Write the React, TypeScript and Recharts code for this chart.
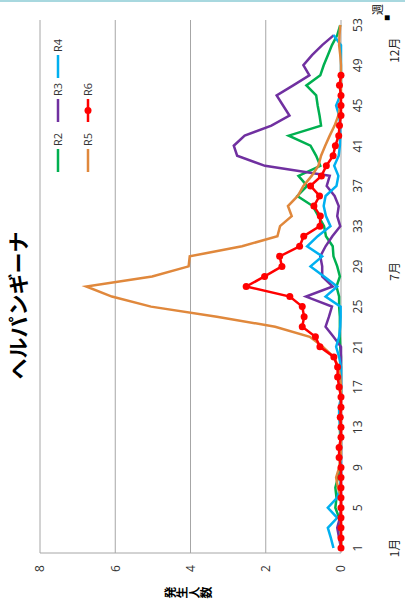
import { CartesianGrid, Line, LineChart, XAxis, YAxis } from "recharts";

// 週 1..53
const weeks = Array.from({ length: 53 }, (_, i) => i + 1);

const r2 = [
  0, 0, 0.02, 0.05, 0.15, 0.12, 0.15, 0.08, 0.03, 0.02,
  0.02, 0.02, 0.03, 0.02, 0.02, 0, 0, 0, 0, 0,
  0.02, 0.03, 0.03, 0.03, 0.05, 0.05, 0.12, 0.03, 0.1, 0.2,
  0.22, 0.4, 0.45, 0.6, 0.75, 1.16, 0.9, 1.13, 0.55, 0.66,
  0.81, 1.39, 0.53, 0.57, 0.62, 0.66, 0.92, 0.55, 0.46, 0.35,
  0.24, 0.1, 0.02,
];
const r3 = [
  0, 0.05, 0.1, 0.03, 0, 0, 0, 0, 0, 0,
  0, 0, 0, 0, 0, 0, 0, 0, 0, 0,
  0, 0.2, 0.41, 0.32, 0.24, 0.93, 0.22, 0.5, 0.5, 0.55,
  0.41, 0.23, 0.02, 0.1, 0.06, 0.17, 0.38, 0.3, 2.02, 2.76,
  2.85, 2.56, 1.85, 1.37, 1.54, 1.71, 1.27, 0.84, 1.0, 0.77,
  0.5, 0.19, null,
];
const r4 = [
  0.2, 0.27, 0.35, 0.1, 0.35, 0.1, 0.03, 0, 0, 0,
  0, 0, 0.02, 0.05, 0.05, 0, 0, 0, 0, 0.05,
  0.13, 0.05, 0.02, 0.01, 0.01, 0.41, 0.1, 0.45, 0.81, 0.5,
  0.9, 0.62, 0.28, 0.4, 0.46, 0.41, 0.12, 0.07, 0.18, 0.06,
  0.03, 0.02, 0.02, 0.05, 0.13, 0.02, 0, 0, 0, 0,
  0, 0.2, null,
];
const r5 = [
  0, 0, 0, 0, 0, 0, 0.08, 0.13, 0.05, 0,
  0, 0, 0, 0, 0, 0, 0, 0.02, 0.07, 0.19,
  0.48, 0.83, 1.75, 3.3, 5.05, 6.09, 6.77, 5.02, 4.05, 4.02,
  2.63, 1.69, 1.62, 1.31, 1.41, 1.15, 1.0, 0.78, 0.6, 0.53,
  0.42, 0.3, 0.17, 0.07, 0.02, 0, 0, 0, 0, 0.02,
  0.05, 0.04, 0.02,
];
const r6 = [
  0, 0, 0, 0, 0, 0, 0, 0, 0, 0.05,
  0.05, 0, 0, 0.02, 0, 0, 0.05, 0.09, 0.09, 0.19,
  0.56, 0.68, 1.03, 0.98, 1.03, 1.36, 2.52, 2.03, 1.57, 1.63,
  1.1, 0.99, 0.56, 0.55, 0.72, 0.57, 0.81, 0.52, 0.39, 0.21,
  0.15, 0.06, 0.04, 0, 0, 0, 0.04, 0, null, null,
  null, null, null,
];

const series = [
  { key: "R2", color: "#00B050", values: r2, dot: false },
  { key: "R3", color: "#7030A0", values: r3, dot: false },
  { key: "R4", color: "#00B0F0", values: r4, dot: false },
  { key: "R5", color: "#E0883C", values: r5, dot: false },
  { key: "R6", color: "#FF0000", values: r6, dot: true },
];

const valueTicks = [0, 2, 4, 6, 8];
const weekLabels = [1, 5, 9, 13, 17, 21, 25, 29, 33, 37, 41, 45, 49, 53];
const weekMarks = [0.5, 4.5, 8.5, 12.5, 16.5, 20.5, 24.5, 28.5, 32.5, 36.5, 40.5, 44.5, 48.5, 52.5];
const monthAt = [1, 28.5, 50.5];
const monthNames = ["1月", "7月", "12月"];

const data = weeks.map((w, i) => {
  const row: Record<string, number | null> = { week: w };
  series.forEach((s) => (row[s.key] = s.values[i]));
  return row;
});

const axisTicks = Array.from(new Set([...weekLabels, ...monthAt])).sort((a, b) => a - b);

const FONT = "'Open Sans', 'Noto Sans CJK JP', sans-serif";
const GRID = "#A6A6A6";

function WeekTick(props: any) {
  const { x, y, payload } = props;
  const v = payload.value;
  const m = monthAt.indexOf(v);
  return (
    <g>
      {weekLabels.includes(v) && (
        <text x={x} y={y + 21} textAnchor="middle" fontSize={12} fill="#333" fontFamily={FONT}>
          {v}
        </text>
      )}
      {m >= 0 && (
        <text x={x} y={y + 58} textAnchor="middle" fontSize={12} fill="#222" fontFamily="'Noto Sans CJK JP', sans-serif">
          {monthNames[m]}
        </text>
      )}
    </g>
  );
}

function LegendBox() {
  const cols = [439, 489, 533];
  return (
    <>
      {series.map((s, i) => (
        <div
          key={s.key}
          style={{
            position: "absolute",
            left: cols[i % 3],
            top: 51 + Math.floor(i / 3) * 30,
            display: "flex",
            alignItems: "center",
            fontFamily: FONT,
            fontSize: 11,
            color: "#333",
            lineHeight: "14px",
          }}
        >
          <svg width={23} height={10}>
            <line x1={0} y1={5} x2={23} y2={5} stroke={s.color} strokeWidth={2.5} />
            {s.dot && <circle cx={11.5} cy={5} r={3.5} fill={s.color} />}
          </svg>
          <span style={{ marginLeft: 3 }}>{s.key}</span>
        </div>
      ))}
    </>
  );
}

export default function App() {
  return (
    <div style={{ position: "absolute", left: 0, top: 0, width: 405, height: 611, overflow: "hidden", background: "#fff" }}>
      <div
        style={{
          position: "absolute",
          left: 0,
          top: 0,
          width: 611,
          height: 405,
          transformOrigin: "0 0",
          transform: "translate(0px, 611px) rotate(-90deg)",
          boxSizing: "border-box",
          borderRight: "2px solid #A8D8DF",
        }}
      >
        <LineChart width={611} height={405} data={data} margin={{ top: 40, right: 20, left: 8, bottom: 4 }}>
          <CartesianGrid horizontal vertical={false} stroke={GRID} />
          <XAxis
            xAxisId="marks"
            type="number"
            dataKey="week"
            domain={[0.5, 53.5]}
            ticks={weekMarks}
            interval={0}
            tick={false}
            height={0}
            mirror
            tickSize={4}
            stroke={GRID}
          />
          <XAxis
            xAxisId="wk"
            type="number"
            dataKey="week"
            domain={[0.5, 53.5]}
            ticks={axisTicks}
            interval={0}
            axisLine={false}
            tickLine={false}
            tickSize={0}
            tickMargin={0}
            height={60}
            tick={<WeekTick />}
          />
          <YAxis
            domain={[0, 8]}
            ticks={valueTicks}
            width={50}
            axisLine={{ stroke: GRID }}
            tickLine={false}
            tickSize={0}
            tickMargin={12}
            tick={{ fontSize: 12, fill: "#333", fontFamily: FONT }}
          />
          {series.map((s) => (
            <Line
              key={s.key}
              xAxisId="wk"
              type="linear"
              dataKey={s.key}
              stroke={s.color}
              strokeWidth={2.5}
              dot={s.dot ? { r: 3.5, fill: s.color, stroke: s.color, strokeWidth: 0 } : false}
              activeDot={false}
              isAnimationActive={false}
            />
          ))}
        </LineChart>
        <div
          style={{
            position: "absolute",
            left: 0,
            width: 611,
            top: 3,
            textAlign: "center",
            fontFamily: "'Noto Sans CJK JP', sans-serif",
            fontWeight: 700,
            fontSize: 21,
            lineHeight: "28px",
            color: "#000",
          }}
        >
          ヘルパンギーナ
        </div>
        <div
          style={{
            position: "absolute",
            left: 11,
            top: 164,
            writingMode: "vertical-rl",
            fontFamily: "'Noto Sans CJK JP', sans-serif",
            fontWeight: 700,
            fontSize: 12,
            lineHeight: "14px",
            color: "#000",
          }}
        >
          発生人数
        </div>
        <div style={{ position: "absolute", left: 596, top: 371, fontFamily: "'Noto Sans CJK JP', sans-serif", fontSize: 11, lineHeight: "12px" }}>
          週
        </div>
        <div style={{ position: "absolute", left: 590, top: 382, fontSize: 10, lineHeight: "10px" }}>■</div>
        <LegendBox />
      </div>
    </div>
  );
}
